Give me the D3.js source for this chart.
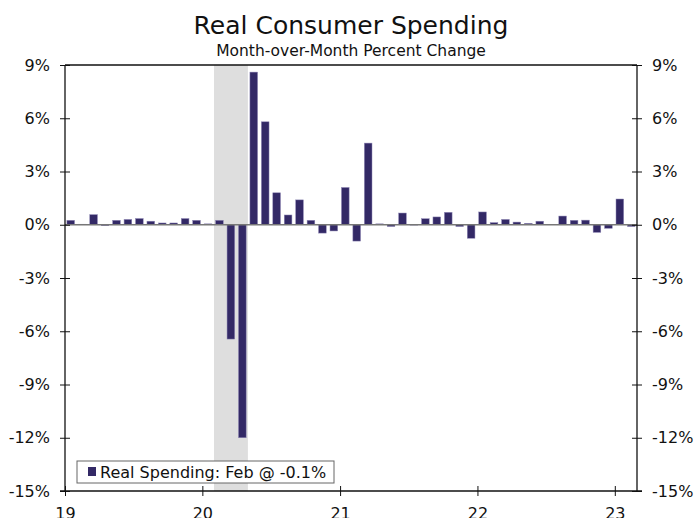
<!DOCTYPE html>
<html>
<head>
<meta charset="utf-8">
<script src="https://cdn.jsdelivr.net/npm/d3@7"></script>
<style>
  body { margin: 0; background: #fff; }
  svg text { font-family: "DejaVu Sans", Verdana, sans-serif; fill: #111; }
</style>
</head>
<body>
<div id="chart"></div>
<script>
// monthly, Jan 2019 .. Feb 2023
var startYear = 2019, startMonth = 0;
var values = [
  0.25, 0.03, 0.57, -0.05, 0.25, 0.30, 0.35, 0.20, 0.10, 0.10, 0.35, 0.25,
  0.05, 0.25, -6.44, -12.0, 8.6, 5.8, 1.8, 0.55, 1.4, 0.25, -0.47, -0.35,
  2.1, -0.92, 4.6, 0.05, -0.1, 0.66, -0.02, 0.34, 0.44, 0.7, -0.1, -0.76,
  0.72, 0.12, 0.3, 0.15, 0.08, 0.2, 0.01, 0.49, 0.25, 0.26, -0.43, -0.2,
  1.45, -0.1
];
var yTicks = [9, 6, 3, 0, -3, -6, -9, -12, -15];
var yearLabels = ["19", "20", "21", "22", "23"];
var recession = [new Date(2020, 1, 1), new Date(2020, 4, 1)];
var legendText = "Real Spending: Feb @ -0.1%";

var width = 696, height = 518;
var pLeft = 65, pRight = 637, pTop = 65, pBottom = 491;
var barColor = "#332966";

var dates = values.map(function (v, i) { return new Date(startYear, startMonth + i, 1); });
var data = values.map(function (v, i) { return { date: dates[i], value: v }; });

var svg = d3.select("#chart").append("svg")
    .attr("width", width)
    .attr("height", height);

var x = d3.scaleTime()
    .domain([new Date(2019, 0, 1), new Date(2023, 2, 1)])
    .range([pLeft, pRight]);
var xb = d3.scaleBand()
    .domain(d3.range(values.length))
    .range([pLeft, pRight])
    .paddingInner(0.33)
    .paddingOuter(0.165);
var y = d3.scaleLinear()
    .domain([-15, 9])
    .range([pBottom, pTop]);

// recession shading
svg.append("rect")
    .attr("x", x(recession[0]))
    .attr("y", pTop)
    .attr("width", x(recession[1]) - x(recession[0]))
    .attr("height", pBottom - pTop)
    .attr("fill", "#dedede");

// bars
svg.selectAll(".bar")
    .data(data)
    .enter().append("rect")
    .attr("class", "bar")
    .attr("x", function (d, i) { return xb(i); })
    .attr("width", xb.bandwidth())
    .attr("y", function (d) { return y(Math.max(0, d.value)); })
    .attr("height", function (d) { return Math.abs(y(d.value) - y(0)); })
    .attr("fill", barColor)
    .attr("stroke", "#8f88b5")
    .attr("stroke-width", 0.5);

// zero line
svg.append("line")
    .attr("x1", pLeft).attr("x2", pRight)
    .attr("y1", y(0)).attr("y2", y(0))
    .attr("stroke", "#777")
    .attr("stroke-width", 1.5);

// frame top
svg.append("line").attr("x1", pLeft).attr("x2", pRight).attr("y1", pTop).attr("y2", pTop)
    .attr("stroke", "#111").attr("stroke-width", 1.3);

var yLeft = d3.axisLeft(y).tickValues(yTicks).tickSize(5).tickFormat(function (d) { return d + "%"; });
var yRight = d3.axisRight(y).tickValues(yTicks).tickSize(5).tickFormat(function (d) { return d + "%"; });

var gl = svg.append("g").attr("transform", "translate(" + pLeft + ",0)").call(yLeft);
var gr = svg.append("g").attr("transform", "translate(" + pRight + ",0)").call(yRight);
[gl, gr].forEach(function (g) {
    g.select(".domain").remove();
    g.append("line").attr("y1", pTop).attr("y2", pBottom).attr("stroke", "#111").attr("stroke-width", 1.3);
    g.selectAll(".tick line").attr("x1", -5).attr("x2", 5).attr("stroke", "#111");
    g.selectAll(".tick text").attr("font-size", 16).attr("font-family", "DejaVu Sans").attr("fill", "#111");
});
gl.selectAll(".tick text").attr("x", -15);
gr.selectAll(".tick text").attr("x", 15);

var xAxis = d3.axisBottom(x)
    .tickValues(yearLabels.map(function (s, i) { return new Date(startYear + i, 0, 1); }))
    .tickSize(5)
    .tickFormat(function (d, i) { return yearLabels[i]; });
var gx = svg.append("g").attr("transform", "translate(0," + pBottom + ")").call(xAxis);
gx.select(".domain").remove();
gx.append("line").attr("x1", pLeft - 5).attr("x2", pRight + 5).attr("stroke", "#111").attr("stroke-width", 1.3);
gx.selectAll(".tick line").attr("y1", -5).attr("y2", 5).attr("stroke", "#111");
gx.selectAll(".tick text").attr("font-size", 16).attr("font-family", "DejaVu Sans").attr("fill", "#111").attr("y", 17);

// legend
var lg = svg.append("g");
lg.append("rect")
    .attr("x", 77).attr("y", 461).attr("width", 257).attr("height", 22)
    .attr("fill", "#fff").attr("stroke", "#666").attr("stroke-width", 1);
lg.append("rect")
    .attr("x", 88).attr("y", 467).attr("width", 8).attr("height", 9)
    .attr("fill", barColor);
lg.append("text")
    .attr("x", 100).attr("y", 477.5)
    .attr("font-size", 16)
    .text(legendText);

// titles
svg.append("text")
    .attr("x", 351).attr("y", 33.5)
    .attr("text-anchor", "middle")
    .attr("font-size", 25)
    .text("Real Consumer Spending");
svg.append("text")
    .attr("x", 351).attr("y", 56)
    .attr("text-anchor", "middle")
    .attr("font-size", 15.5)
    .text("Month-over-Month Percent Change");
</script>
</body>
</html>
